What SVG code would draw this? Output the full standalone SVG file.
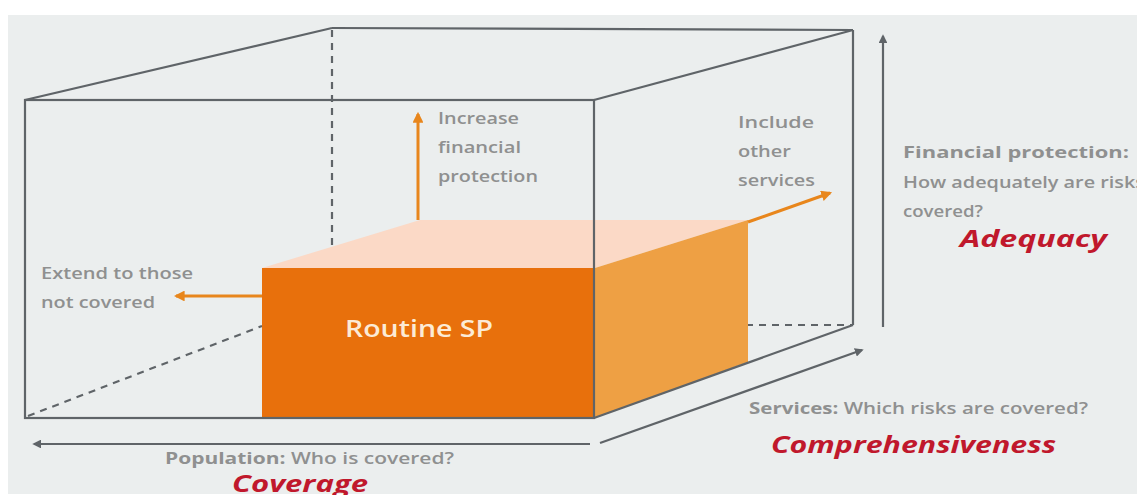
<svg xmlns="http://www.w3.org/2000/svg" width="1137" height="495" viewBox="0 0 1137 495">
<defs>
<style>
.wire{fill:none;stroke:#5f6468;stroke-width:2.2}
.dash{fill:none;stroke:#5f6468;stroke-width:2.2;stroke-dasharray:7 6}
.axis{fill:none;stroke:#5f6468;stroke-width:2.2}
.oarrow{fill:none;stroke:#e8861c;stroke-width:3}
.lbl{font-family:"Open Sans","DejaVu Sans",sans-serif;font-size:17px;font-weight:600;fill:#8f9090}
.ax{font-family:"Open Sans","DejaVu Sans",sans-serif;font-size:16px;font-weight:600;fill:#8f9090}
.axb{font-weight:bold}
.red{font-family:"Open Sans","DejaVu Sans",sans-serif;font-weight:bold;font-style:italic;font-size:24px;fill:#c0182c}
</style>
<marker id="ah" viewBox="0 0 10 10" refX="8" refY="5" markerWidth="4" markerHeight="4" orient="auto" markerUnits="strokeWidth">
<path d="M0,0L10,5L0,10z" fill="#5f6468"/>
</marker>
<marker id="oh" viewBox="0 0 10 10" refX="8" refY="5" markerWidth="3.6" markerHeight="3.6" orient="auto" markerUnits="strokeWidth">
<path d="M0,0L10,5L0,10z" fill="#e8861c"/>
</marker>
</defs>
<rect x="0" y="0" width="1137" height="495" fill="#ffffff"/>
<rect x="8" y="15" width="1129" height="479" fill="#ebeeee"/>

<g id="box-back">
<line class="wire" x1="332" y1="28" x2="853" y2="30"/>
<line class="wire" x1="853" y1="30" x2="853" y2="325"/>
<line class="dash" x1="332" y1="30" x2="332" y2="245"/>
<line class="dash" x1="746" y1="325" x2="853" y2="325"/>
<line class="dash" x1="28" y1="416" x2="262" y2="326"/>
</g>

<g id="routine-sp">
<polygon points="262,268 420,220 748,220 595,268" fill="#fbd9c6"/>
<polygon points="595,268 748,220 748,362 595,418" fill="#eea044"/>
<rect x="262" y="268" width="333" height="150" fill="#e8700c"/>
<text x="345" y="337" textLength="148" lengthAdjust="spacingAndGlyphs" font-family="'Open Sans','DejaVu Sans',sans-serif" font-size="24" font-weight="600" fill="#fcebd6">Routine SP</text>
</g>

<g id="box-front">
<line class="wire" x1="25" y1="100" x2="332" y2="28"/>
<line class="wire" x1="594" y1="100" x2="853" y2="30"/>
<line class="wire" x1="594" y1="418" x2="853" y2="325"/>
<rect class="wire" x="25" y="100" width="569" height="318"/>
</g>

<g id="connectors">
<line class="axis" x1="590" y1="444" x2="34" y2="444" marker-end="url(#ah)"/>
<line class="axis" x1="600" y1="443" x2="862" y2="350" marker-end="url(#ah)"/>
<line class="axis" x1="883" y1="327" x2="883" y2="36" marker-end="url(#ah)"/>
<line class="oarrow" x1="418" y1="220" x2="418" y2="114" marker-end="url(#oh)"/>
<line class="oarrow" x1="262" y1="296" x2="176" y2="296" marker-end="url(#oh)"/>
<line class="oarrow" x1="748" y1="222" x2="830" y2="193" marker-end="url(#oh)"/>
</g>

<g id="label-increase">
<text class="lbl" x="438" y="124" textLength="81" lengthAdjust="spacingAndGlyphs">Increase</text>
<text class="lbl" x="438" y="153" textLength="83" lengthAdjust="spacingAndGlyphs">financial</text>
<text class="lbl" x="438" y="182" textLength="100" lengthAdjust="spacingAndGlyphs">protection</text>
</g>
<g id="label-include">
<text class="lbl" x="738" y="128" textLength="76" lengthAdjust="spacingAndGlyphs">Include</text>
<text class="lbl" x="738" y="157" textLength="53" lengthAdjust="spacingAndGlyphs">other</text>
<text class="lbl" x="738" y="186" textLength="77" lengthAdjust="spacingAndGlyphs">services</text>
</g>
<g id="label-extend">
<text class="lbl" x="41" y="279" textLength="152" lengthAdjust="spacingAndGlyphs">Extend to those</text>
<text class="lbl" x="41" y="308" textLength="114" lengthAdjust="spacingAndGlyphs">not covered</text>
</g>

<g id="axis-financial">
<text class="ax axb" x="903" y="158" textLength="226" lengthAdjust="spacingAndGlyphs">Financial protection:</text>
<text class="ax" x="903" y="188" textLength="242" lengthAdjust="spacingAndGlyphs">How adequately are risks</text>
<text class="ax" x="903" y="217" textLength="80" lengthAdjust="spacingAndGlyphs">covered?</text>
<text class="red" x="960" y="247" textLength="147" lengthAdjust="spacingAndGlyphs">Adequacy</text>
</g>
<g id="axis-services">
<text class="ax" x="749" y="414" textLength="339" lengthAdjust="spacingAndGlyphs"><tspan class="axb">Services:</tspan> Which risks are covered?</text>
<text class="red" x="771" y="453" textLength="285" lengthAdjust="spacingAndGlyphs">Comprehensiveness</text>
</g>
<g id="axis-population">
<text class="ax" x="165" y="464" textLength="289" lengthAdjust="spacingAndGlyphs"><tspan class="axb">Population:</tspan> Who is covered?</text>
<text class="red" x="232" y="492" textLength="136" lengthAdjust="spacingAndGlyphs">Coverage</text>
</g>
</svg>
